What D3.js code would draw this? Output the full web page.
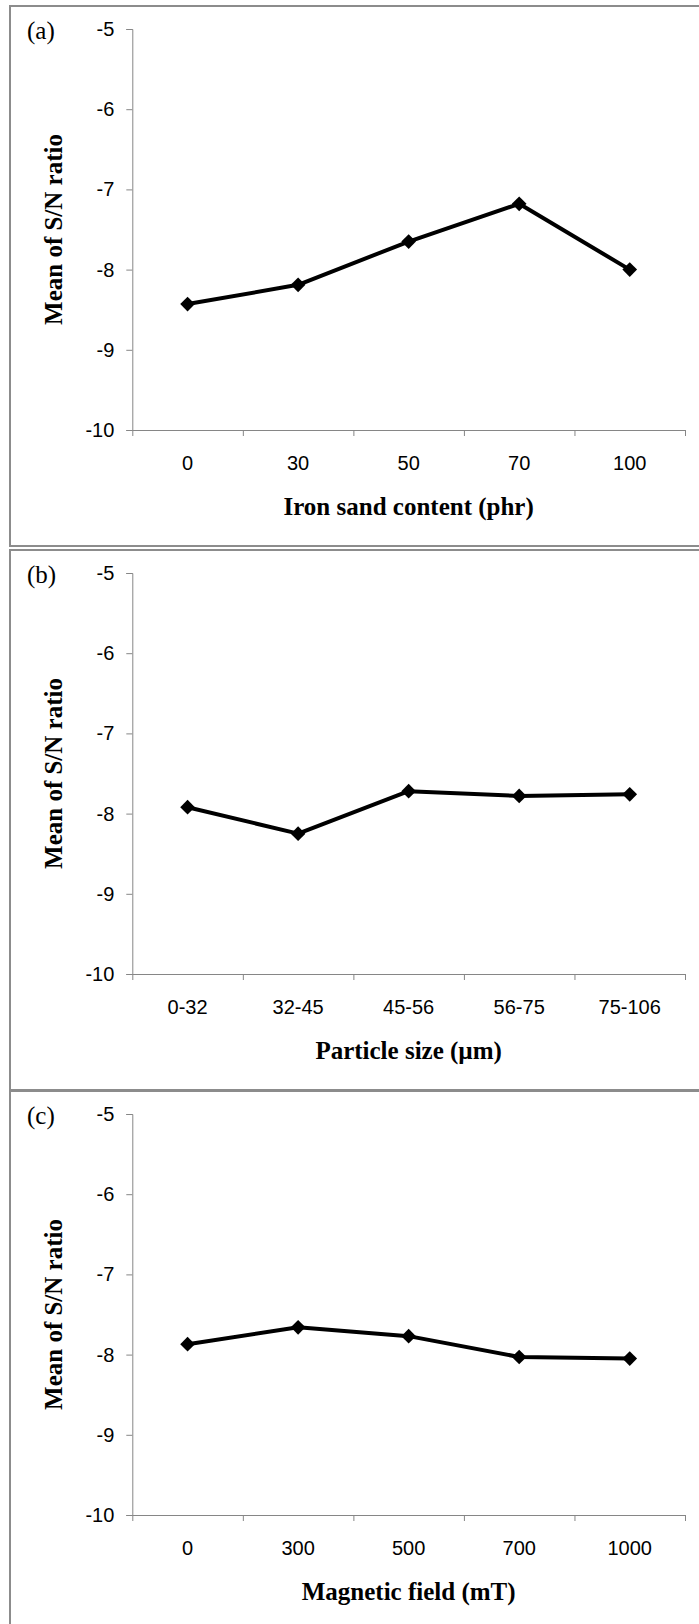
<!DOCTYPE html>
<html>
<head>
<meta charset="utf-8">
<script src="https://cdn.jsdelivr.net/npm/d3@7"></script>
<style>
  body { margin: 0; background: #fff; }
  svg { display: block; }
</style>
</head>
<body>
<div id="wrapper"></div>
<script>
// data
const ironSandCats = ["0", "30", "50", "70", "100"]
const ironSandSN = [-8.43, -8.19, -7.65, -7.18, -8.00]

const particleCats = ["0-32", "32-45", "45-56", "56-75", "75-106"]
const particleSN = [-7.92, -8.25, -7.72, -7.78, -7.76]

const fieldCats = ["0", "300", "500", "700", "1000"]
const fieldSN = [-7.87, -7.66, -7.77, -8.03, -8.05]

const yTicks = [-10, -9, -8, -7, -6, -5]
const panelLabels = ["(a)", "(b)", "(c)"]
const xTitles = ["Iron sand content (phr)", "Particle size (\u00b5m)", "Magnetic field (mT)"]
const yTitle = "Mean of S/N ratio"

function drawCharts() {
    const dimensions = {
        width: 699,
        height: 1624,
        panelTops: [6, 550, 1091],
        panelLeft: 10,
        panelWidth: 720,
        panelHeight: 540,
        plotLeft: 132.3,
        plotRight: 685,
        plotTop: 23,
        plotHeight: 401,
    }

    const axisColor = "#868686"

    const wrapper = d3.select("#wrapper")
        .append("svg")
        .attr("width", dimensions.width)
        .attr("height", dimensions.height)

    const series = [
        { cats: ironSandCats, values: ironSandSN },
        { cats: particleCats, values: particleSN },
        { cats: fieldCats, values: fieldSN },
    ]

    series.forEach((s, i) => {
        const top = dimensions.panelTops[i]

        // panel frame
        wrapper.append("rect")
            .attr("x", dimensions.panelLeft)
            .attr("y", top)
            .attr("width", dimensions.panelWidth)
            .attr("height", dimensions.panelHeight)
            .attr("fill", "none")
            .attr("stroke", "#8c8c8c")
            .attr("stroke-width", 2)

        const bounds = wrapper.append("g")
            .attr("transform", `translate(0, ${top + dimensions.plotTop})`)

        const yScaler = d3.scaleLinear()
            .domain([-10, -5])
            .range([dimensions.plotHeight, 0])

        const xScaler = d3.scaleBand()
            .domain(s.cats)
            .range([dimensions.plotLeft, dimensions.plotRight])

        const edgeScaler = d3.scaleLinear()
            .domain([0, s.cats.length])
            .range([dimensions.plotLeft, dimensions.plotRight])

        // y axis
        const yAxis = bounds.append("g")
            .attr("transform", `translate(${dimensions.plotLeft}, 0)`)
            .call(d3.axisLeft(yScaler).tickValues(yTicks).tickSize(6).tickPadding(12))
        yAxis.select(".domain").attr("stroke", axisColor)
        yAxis.selectAll(".tick line").attr("stroke", axisColor)
        yAxis.selectAll("text")
            .attr("fill", "#000")
            .style("font-family", "Arial, 'Liberation Sans', sans-serif")
            .style("font-size", "20px")
            .text(d => String(d))

        // x axis: boundary ticks
        const xTickAxis = bounds.append("g")
            .attr("transform", `translate(0, ${dimensions.plotHeight})`)
            .call(d3.axisBottom(edgeScaler).tickValues(d3.range(s.cats.length + 1))
                .tickSize(6).tickSizeOuter(0).tickFormat(""))
        xTickAxis.select(".domain").attr("stroke", axisColor)
        xTickAxis.selectAll(".tick line").attr("stroke", axisColor)

        // x axis: category labels
        const xLabelAxis = bounds.append("g")
            .attr("transform", `translate(0, ${dimensions.plotHeight})`)
            .call(d3.axisBottom(xScaler).tickSize(0).tickPadding(26))
        xLabelAxis.select(".domain").remove()
        xLabelAxis.selectAll("text")
            .attr("fill", "#000")
            .style("font-family", "Arial, 'Liberation Sans', sans-serif")
            .style("font-size", "20px")

        // line + markers
        const points = s.cats.map((c, k) => ({ cat: c, value: s.values[k] }))
        const xCenter = d => xScaler(d.cat) + xScaler.bandwidth() / 2

        const lineGenerator = d3.line()
            .x(xCenter)
            .y(d => yScaler(d.value))

        bounds.append("path")
            .datum(points)
            .attr("d", lineGenerator)
            .attr("fill", "none")
            .attr("stroke", "#000")
            .attr("stroke-width", 4)
            .attr("stroke-linejoin", "round")

        bounds.selectAll(".marker")
            .data(points)
            .join("path")
            .attr("class", "marker")
            .attr("d", d3.symbol(d3.symbolSquare, 108))
            .attr("transform", d => `translate(${xCenter(d)}, ${yScaler(d.value)}) rotate(45)`)
            .attr("fill", "#000")

        // titles
        bounds.append("text")
            .attr("x", (dimensions.plotLeft + dimensions.plotRight) / 2)
            .attr("y", dimensions.plotHeight + 85)
            .attr("text-anchor", "middle")
            .style("font-family", "'Times New Roman', 'Liberation Serif', serif")
            .style("font-weight", "bold")
            .style("font-size", "25px")
            .text(xTitles[i])

        bounds.append("text")
            .attr("transform", `translate(61.5, ${dimensions.plotHeight / 2}) rotate(-90)`)
            .attr("text-anchor", "middle")
            .style("font-family", "'Times New Roman', 'Liberation Serif', serif")
            .style("font-weight", "bold")
            .style("font-size", "25px")
            .text(yTitle)

        wrapper.append("text")
            .attr("x", 27)
            .attr("y", top + 33)
            .style("font-family", "'Times New Roman', 'Liberation Serif', serif")
            .style("font-size", "25px")
            .text(panelLabels[i])
    })
}

drawCharts()
</script>
</body>
</html>
